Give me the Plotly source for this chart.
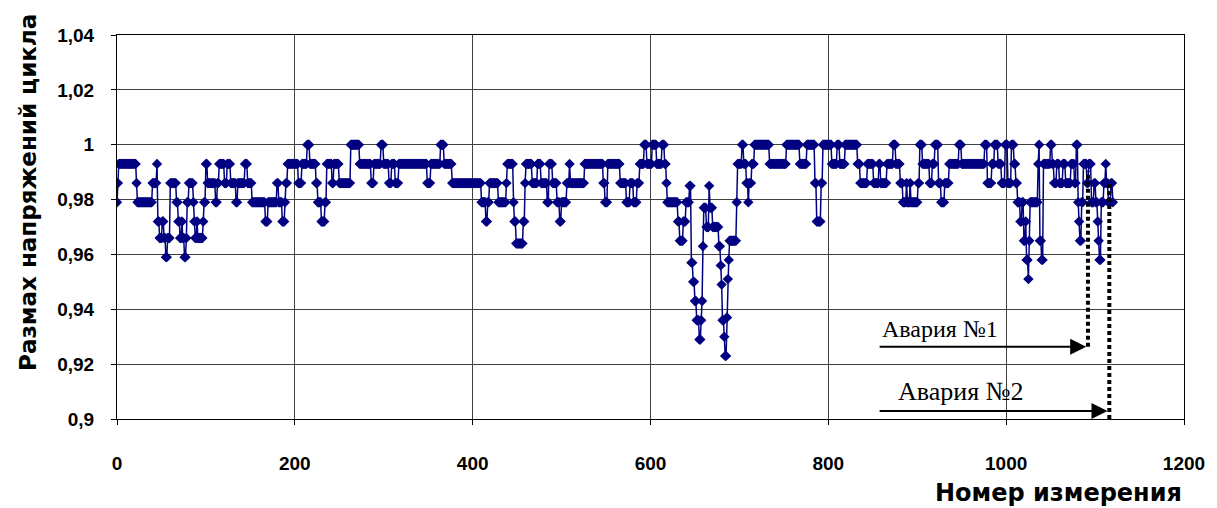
import numpy as np
import plotly.graph_objects as go

# ---- data: run-length encoded measurement series (value, number of consecutive measurements) ----
levels_a = [0.979, 0.986, 0.993, 0.986, 0.979, 0.986, 0.993, 0.972, 0.966, 0.972, 0.966, 0.959, 0.966,
            0.986, 0.979, 0.972, 0.966, 0.972, 0.966, 0.959, 0.966, 0.979, 0.986, 0.979, 0.972, 0.966,
            0.972, 0.966, 0.972, 0.979, 0.993, 0.986, 0.979, 0.986, 0.993, 0.986, 0.993, 0.986, 0.979,
            0.986, 0.993, 0.986, 0.979, 0.972, 0.979, 0.986, 0.979, 0.972, 0.979, 0.986, 0.993]
counts_a = [1, 1, 20, 1, 17, 5, 1, 2, 3, 2, 2, 2, 3,
            7, 2, 2, 2, 1, 2, 2, 1, 2, 5, 1, 1, 2,
            1, 6, 1, 2, 2, 9, 2, 2, 6, 3, 4, 6, 2,
            8, 3, 5, 15, 3, 10, 2, 4, 3, 1, 2, 12]

levels_b = [0.986, 0.993, 1.0, 0.993, 0.986, 0.979, 0.972, 0.979, 0.993, 0.986, 0.993, 0.986, 1.0,
            0.993, 0.986, 0.993, 1.0, 0.993, 0.986, 0.993, 0.986, 0.993, 0.986, 0.993, 1.0, 0.993, 0.986]
counts_b = [4, 6, 3, 7, 2, 4, 4, 2, 6, 2, 6, 13, 10,
            13, 3, 8, 3, 6, 3, 4, 4, 32, 4, 11, 4, 9, 31]

levels_c = [0.986, 0.979, 0.972, 0.979, 0.986, 0.979, 0.986, 0.993, 0.979, 0.972, 0.964, 0.972, 0.986,
            0.993, 0.986, 0.993, 0.986, 0.979, 0.993, 0.986, 0.979, 0.972, 0.979, 0.986, 0.993, 0.986,
            0.993, 0.986, 0.979, 0.993, 0.986, 0.979, 0.986, 0.979, 0.986, 0.993, 1.0, 0.993]
counts_c = [2, 5, 2, 2, 10, 9, 1, 7, 1, 2, 8, 2, 1,
            7, 6, 4, 7, 2, 4, 5, 3, 2, 6, 3, 1, 16,
            21, 2, 3, 14, 7, 4, 4, 4, 3, 5, 3, 6]

levels_d = [1.0, 0.993, 1.0, 0.993, 0.986, 0.979, 0.972, 0.965, 0.972, 0.979, 0.985, 0.957, 0.950,
            0.943, 0.936, 0.929, 0.936, 0.943, 0.963, 0.977, 0.970, 0.985, 0.977, 0.970, 0.963, 0.956,
            0.949, 0.936, 0.930, 0.923, 0.937, 0.951, 0.958, 0.965, 0.979, 0.993, 1.0, 0.993, 0.986,
            0.979, 0.986, 0.993, 1.0, 0.993, 1.0, 0.993, 1.0, 0.986, 0.972, 0.986, 1.0, 0.993, 1.0,
            0.993, 1.0]
counts_d = [5, 6, 3, 2, 1, 12, 2, 4, 3, 4, 2, 2, 2,
            2, 3, 2, 1, 1, 1, 3, 3, 1, 3, 7, 2, 1,
            1, 2, 1, 2, 1, 1, 1, 8, 1, 5, 2, 3, 2,
            1, 3, 3, 17, 19, 15, 8, 9, 2, 5, 2, 10, 6, 3,
            6, 14]

levels_e = [0.993, 0.986, 0.993, 0.986, 0.993, 0.986, 0.993, 1.0, 0.993, 0.986, 0.979, 0.986, 0.979,
            0.986, 0.979, 0.986, 1.0, 0.993, 0.986, 0.993, 1.0, 0.986, 0.979, 0.986, 0.993, 1.0,
            0.993, 1.0, 0.986, 0.993, 1.0, 0.993, 0.986, 1.0, 0.986, 1.0, 0.993, 0.986]
counts_e = [3, 8, 7, 6, 2, 7, 7, 3, 5, 3, 4, 1, 3,
            1, 8, 2, 3, 8, 3, 3, 4, 3, 4, 5, 11, 3,
            26, 3, 5, 3, 4, 4, 4, 3, 4, 3, 2, 2]

levels_f = [0.979, 0.972, 0.979, 0.965, 0.972, 0.958, 0.951, 0.965, 0.979, 0.993, 1.0, 0.965, 0.958,
            0.993, 1.0, 0.993, 0.986, 0.993, 0.986, 0.993, 0.986, 0.993, 0.986, 1.0, 0.979, 0.972,
            0.965, 0.979, 0.993, 0.986, 0.993, 0.979, 0.986, 0.979, 0.972, 0.965, 0.958, 0.979, 0.986,
            0.993, 0.986, 0.979, 0.986, 0.979]
counts_f = [3, 2, 2, 2, 1, 2, 1, 1, 9, 1, 1, 2, 2,
            8, 2, 2, 3, 3, 4, 3, 6, 4, 2, 2, 1, 1,
            2, 2, 4, 2, 3, 3, 2, 2, 1, 1, 2, 3, 2,
            1, 2, 3, 2, 1]

# axis ticks
x_ticks = [0, 200, 400, 600, 800, 1000, 1200]
y_ticks = [0.9, 0.92, 0.94, 0.96, 0.98, 1.0, 1.02, 1.04]
y_tick_text = ["0,9", "0,92", "0,94", "0,96", "0,98", "1", "1,02", "1,04"]

# accident annotations
accident_labels = ["Авария №1", "Авария №2"]
accident_n = [1092, 1116]
arrow_start_n = [856, 856]
arrow_level = [0.9263, 0.9029]
label_n = [858, 876]
label_level = [0.9327, 0.9100]
label_size = [24, 26]
dotted_top = [0.9905, 0.987]
dotted_bottom = [0.9263, 0.9]

# ---- build series ----
levels = levels_a + levels_b + levels_c + levels_d + levels_e + levels_f
counts = counts_a + counts_b + counts_c + counts_d + counts_e + counts_f
y = np.repeat(levels, counts)
x = np.arange(len(y))

navy = "#000080"
fig = go.Figure()
fig.add_trace(go.Scatter(
    x=x, y=y, mode="lines+markers",
    line=dict(color=navy, width=1.5),
    marker=dict(symbol="diamond", size=8, color=navy, line=dict(width=0)),
    showlegend=False, hoverinfo="x+y",
))

shapes = []
annotations = []
for i in range(2):
    shapes.append(dict(type="line", xref="x", yref="y",
                       x0=accident_n[i], x1=accident_n[i], y0=dotted_bottom[i], y1=dotted_top[i],
                       line=dict(color="black", width=4, dash="4px,3px")))
    annotations.append(dict(x=accident_n[i] - 2, y=arrow_level[i], xref="x", yref="y",
                            ax=arrow_start_n[i], ay=arrow_level[i], axref="x", ayref="y",
                            text="", showarrow=True, arrowhead=2, arrowsize=1.6,
                            arrowwidth=2, arrowcolor="black"))
    annotations.append(dict(x=label_n[i], y=label_level[i], xref="x", yref="y",
                            text=accident_labels[i], showarrow=False, xanchor="left", yanchor="middle",
                            font=dict(family="Liberation Serif", size=label_size[i], color="black")))

annotations.append(dict(x=-0.0835, y=0.591, xref="paper", yref="paper", textangle=-90,
                        text="Размах напряжений цикла", showarrow=False,
                        xanchor="center", yanchor="middle",
                        font=dict(family="DejaVu Sans", size=23, color="black", weight="bold")))
annotations.append(dict(x=1.0, y=-0.193, xref="paper", yref="paper",
                        text="Номер измерения", showarrow=False,
                        xanchor="right", yanchor="middle",
                        font=dict(family="DejaVu Sans", size=24, color="black", weight="bold")))

grid_col = "#404040"
fig.update_layout(
    width=1209, height=500,
    margin=dict(l=109, r=30, t=27, b=89),
    paper_bgcolor="white", plot_bgcolor="white",
    shapes=shapes, annotations=annotations,
    xaxis=dict(range=[0, 1200], tickvals=x_ticks, showgrid=True, gridcolor=grid_col, gridwidth=1,
               showline=True, linecolor="black", linewidth=1, mirror=True,
               ticks="outside", ticklen=5, tickcolor="black", zeroline=False,
               ticklabelstandoff=22,
               tickfont=dict(family="Liberation Sans", size=19, color="black", weight="bold")),
    yaxis=dict(range=[0.9, 1.04], tickvals=y_ticks, ticktext=y_tick_text, showgrid=True,
               gridcolor=grid_col, gridwidth=1,
               showline=True, linecolor="black", linewidth=1, mirror=True,
               ticks="outside", ticklen=5, tickcolor="black", zeroline=False,
               ticklabelstandoff=13,
               tickfont=dict(family="Liberation Sans", size=19, color="black", weight="bold")),
)

fig.write_html("out.html")
